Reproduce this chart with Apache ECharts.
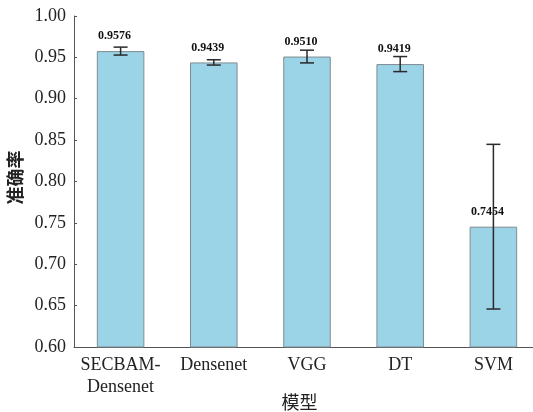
<!DOCTYPE html>
<html>
<head>
<meta charset="utf-8">
<script src="https://cdn.jsdelivr.net/npm/echarts@6/dist/echarts.min.js"></script>
<style>
  html, body { margin: 0; padding: 0; background: #fff; }
  #chart { width: 533px; height: 412px; }
</style>
</head>
<body>
<div id="chart"></div>
<script>
// Model accuracy with standard-deviation error bars
const models = ['SECBAM-\nDensenet', 'Densenet', 'VGG', 'DT', 'SVM'];
const accuracy = [0.9576, 0.9439, 0.9510, 0.9419, 0.7454];
const errorSpread = [0.0048, 0.0032, 0.0077, 0.0091, 0.0995];
const yTicks = { min: 0.6, max: 1.0, step: 0.05 };

const serif = '"Liberation Serif", "Times New Roman", serif';
const cjk = '"Noto Sans CJK SC", sans-serif';

const errorData = accuracy.map((v, i) => [i, v - errorSpread[i], v + errorSpread[i]]);

const chart = echarts.init(document.getElementById('chart'));
chart.setOption({
  animation: false,
  backgroundColor: '#ffffff',
  grid: { left: 74, top: 16, width: 466, height: 331, containLabel: false, outerBoundsMode: 'none' },
  xAxis: {
    type: 'category',
    data: models,
    name: '模型',
    nameLocation: 'middle',
    nameGap: 46,
    nameMoveOverlap: false,
    nameTextStyle: { fontFamily: cjk, fontSize: 18, color: '#222', padding: [0, 15, 0, 0] },
    axisLine: { lineStyle: { color: '#555', width: 1 } },
    axisTick: { inside: true, alignWithLabel: true, length: 3, lineStyle: { color: '#555' } },
    axisLabel: { fontFamily: serif, fontSize: 18, color: '#222', margin: 7, lineHeight: 22, interval: 0 }
  },
  yAxis: {
    type: 'value',
    min: yTicks.min,
    max: yTicks.max,
    interval: yTicks.step,
    name: '准确率',
    nameLocation: 'middle',
    nameGap: 50,
    nameMoveOverlap: false,
    nameTextStyle: { fontFamily: cjk, fontSize: 18, fontWeight: 'bold', color: '#222', padding: [0, 0, 0, 8] },
    splitLine: { show: false },
    axisLine: { show: true, lineStyle: { color: '#555', width: 1 } },
    axisTick: { show: true, inside: true, length: 3, lineStyle: { color: '#555' } },
    axisLabel: { fontFamily: serif, fontSize: 18, color: '#222', margin: 8,
      formatter: v => v.toFixed(2) }
  },
  series: [
    {
      type: 'bar',
      data: accuracy,
      barWidth: '51%',
      itemStyle: { color: '#9bd3e7', borderColor: '#7f8c90', borderWidth: 1 },
      label: {
        show: true,
        position: 'top',
        distance: 9,
        offset: [-6, 0],
        fontFamily: serif,
        fontSize: 12,
        fontWeight: 'bold',
        color: '#111',
        formatter: p => p.value.toFixed(4)
      },
      z: 2
    },
    {
      type: 'custom',
      data: errorData,
      z: 5,
      renderItem: (params, api) => {
        const x = api.value(0);
        const lo = api.coord([x, api.value(1)]);
        const hi = api.coord([x, api.value(2)]);
        const cap = 7;
        const style = { stroke: '#2a2a2a', lineWidth: 1.5, fill: null };
        return {
          type: 'group',
          children: [
            { type: 'line', shape: { x1: lo[0], y1: lo[1], x2: hi[0], y2: hi[1] }, style },
            { type: 'line', shape: { x1: lo[0] - cap, y1: lo[1], x2: lo[0] + cap, y2: lo[1] }, style },
            { type: 'line', shape: { x1: hi[0] - cap, y1: hi[1], x2: hi[0] + cap, y2: hi[1] }, style }
          ]
        };
      }
    }
  ]
});
</script>
</body>
</html>
